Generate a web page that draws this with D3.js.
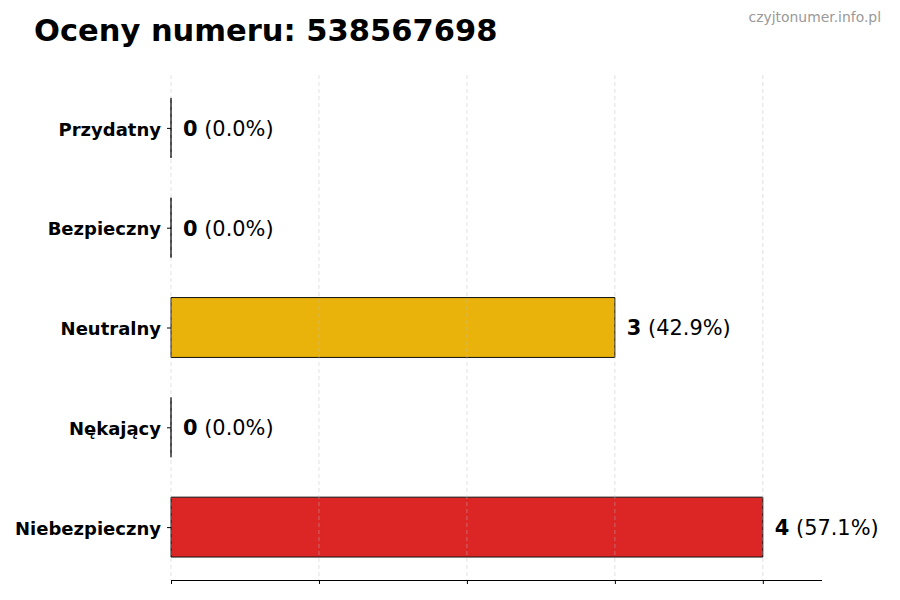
<!DOCTYPE html>
<html>
<head>
<meta charset="utf-8">
<script src="https://cdn.jsdelivr.net/npm/d3@7"></script>
<style>
  html, body { margin: 0; padding: 0; background: #fff; }
  svg { display: block; font-family: "DejaVu Sans", sans-serif; }
</style>
</head>
<body>
<svg id="chart" width="900" height="600"></svg>
<script>
const categories = ["Przydatny", "Bezpieczny", "Neutralny", "Nękający", "Niebezpieczny"];
const counts = [0, 0, 3, 0, 4];
const percents = ["0.0%", "0.0%", "42.9%", "0.0%", "57.1%"];
const barColors = ["#22c55e", "#3b82f6", "#e9b30b", "#f97316", "#dc2626"];
const xTicks = [0, 1, 2, 3, 4];
const titleText = "Oceny numeru: 538567698";
const watermark = "czyjtonumer.info.pl";

(function () {
const svg = d3.select("#chart");
const mLeft = 171, mRight = 822, mTop = 75, mBottom = 580;

const x = d3.scaleLinear().domain([0, 4.4]).range([mLeft, mRight]);
const y = d3.scaleLinear().domain([-0.53, 4.53]).range([mTop, mBottom]);
const barH = y(0.3) - y(-0.3);

// title & watermark
svg.append("text").attr("x", 34).attr("y", 41)
  .attr("font-size", 30.5).attr("font-weight", "bold").attr("fill", "#000")
  .text(titleText);
svg.append("text").attr("x", 881).attr("y", 22).attr("text-anchor", "end")
  .attr("font-size", 13.9).attr("fill", "#999").text(watermark);

// bars (as paths so zero-width bars still show their edge)
const data = categories.map((c, i) => ({c, i, v: counts[i], p: percents[i], col: barColors[i]}));
svg.append("g").selectAll("path").data(data).join("path")
  .attr("d", d => {
    const x0 = x(0), y0 = y(d.i) - barH / 2, w = x(d.v) - x(0);
    return `M${x0},${y0}h${w}v${barH}h${-w}Z`;
  })
  .attr("fill", d => d.col)
  .attr("stroke", "#111")
  .attr("stroke-width", 1);

// grid on top (faint)
svg.append("g").selectAll("line").data(xTicks).join("line")
  .attr("x1", d => x(d)).attr("x2", d => x(d))
  .attr("y1", mTop).attr("y2", mBottom)
  .attr("stroke", "#bbb").attr("stroke-opacity", 0.55)
  .attr("stroke-width", 0.8).attr("stroke-dasharray", "4,3");

// bottom axis
const xAxis = d3.axisBottom(x).tickValues(xTicks).tickSize(4).tickFormat("");
const gx = svg.append("g").attr("transform", `translate(0,${mBottom})`).call(xAxis);
gx.select(".domain").attr("d", `M${mLeft},0.5H${mRight}`).attr("stroke", "#000").attr("stroke-width", 1.2);
gx.selectAll(".tick line").attr("stroke", "#000");

// left axis (ticks + labels, no spine)
const yAxis = d3.axisLeft(y).tickValues(data.map(d => d.i)).tickSize(4)
  .tickPadding(6).tickFormat(i => categories[i]);
const gy = svg.append("g").attr("transform", `translate(${mLeft},0)`).call(yAxis);
gy.select(".domain").remove();
gy.selectAll(".tick line").attr("stroke", "#000");
gy.selectAll(".tick text").attr("font-size", 18).attr("font-weight", "bold")
  .attr("fill", "#000").attr("font-family", "DejaVu Sans").attr("dy", "0.4em");

// value labels
const lbl = svg.append("g").selectAll("text").data(data).join("text")
  .attr("x", d => x(d.v) + 12)
  .attr("y", d => y(d.i))
  .attr("dy", "0.38em")
  .attr("font-size", 20.9).attr("fill", "#000");
lbl.append("tspan").attr("font-weight", "bold").text(d => d.v);
lbl.append("tspan").text(d => " (" + d.p + ")");
})();
</script>
</body>
</html>
